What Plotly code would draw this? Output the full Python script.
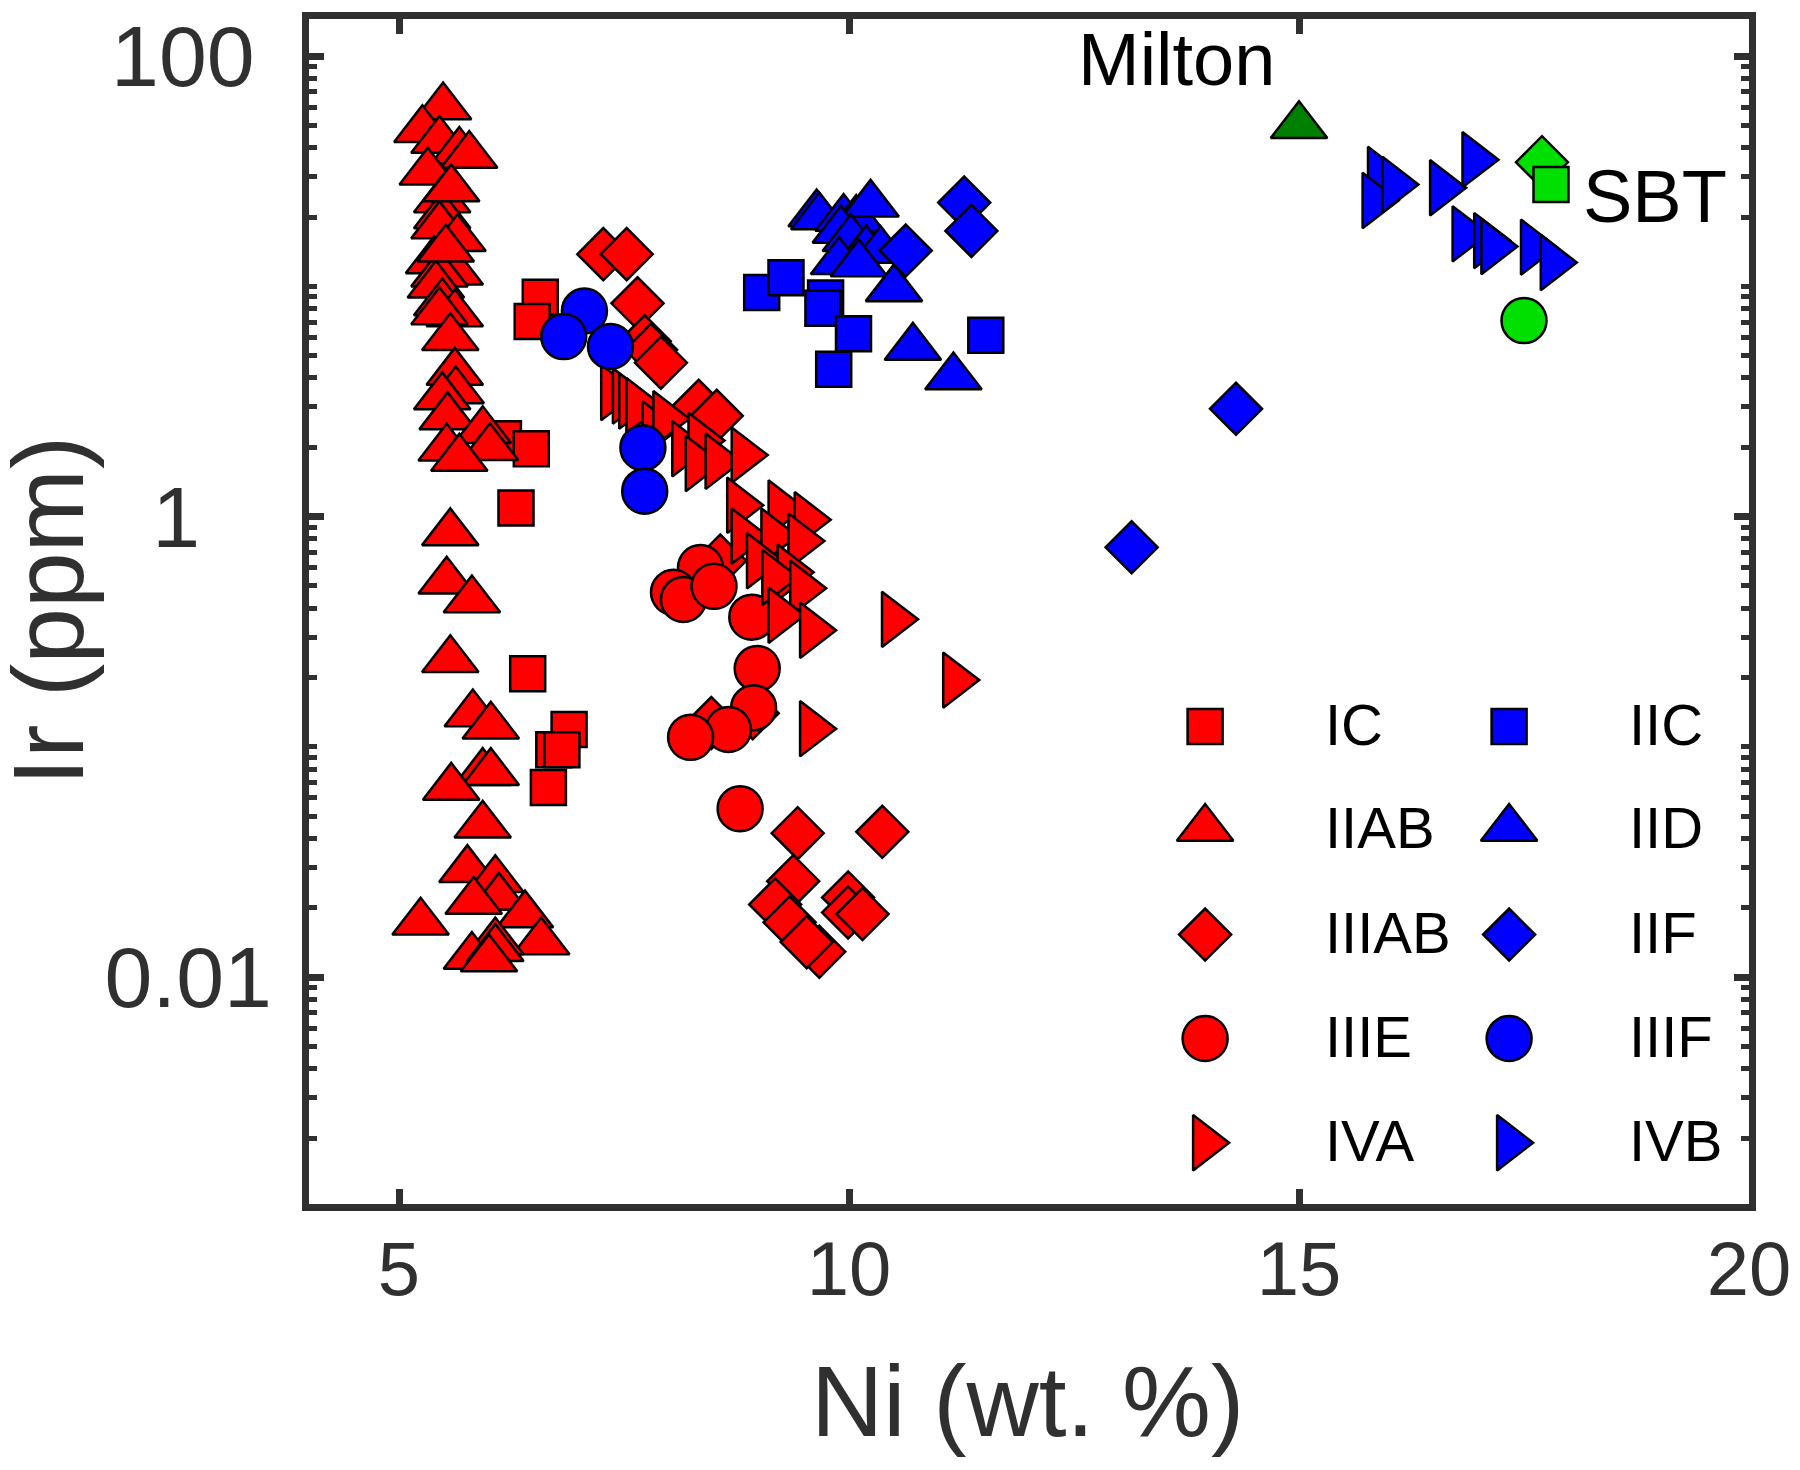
import plotly.graph_objects as go

# ---------------- data (Ni wt.%, Ir ppm) ----------------
IC_x = [6.57, 6.48, 6.16, 6.47, 6.30, 6.43, 6.89, 6.72, 6.81, 6.66]
IC_y = [8.97, 7.03, 2.18, 1.97, 1.09, 0.208, 0.119, 0.0973, 0.0973, 0.0667]

IIAB_x = [5.49, 5.26, 5.45, 5.67, 5.78, 5.32, 5.48, 5.48, 5.45, 5.65, 5.39, 5.62, 5.45, 5.41, 5.48,
          5.62, 5.45, 5.57, 5.62, 5.63, 5.48, 5.54, 5.93, 6.01, 5.53, 5.67, 5.57, 5.53, 5.81, 5.57,
          5.82, 6.02, 5.93, 6.02, 5.58, 5.93, 5.76, 6.07, 6.11, 5.83, 6.40, 5.24, 6.58, 6.07, 5.81,
          6.07, 6.00, 5.58, 5.52]
IIAB_y = [60.1, 47.9, 43.0, 38.5, 37.0, 31.3, 23.7, 20.2, 18.3, 16.1, 12.9, 11.5, 11.3, 10.1, 8.46,
          7.59, 7.74, 5.98, 4.23, 3.51, 3.31, 2.71, 2.36, 1.99, 1.98, 1.79, 0.85, 0.524, 0.434, 0.239,
          0.139, 0.123, 0.0773, 0.0773, 0.0667, 0.0457, 0.0293, 0.0265, 0.0222, 0.0213, 0.0186, 0.0173,
          0.0142, 0.0142, 0.0123, 0.0133, 0.0120, 26.5, 14.5]

IIIAB_x = [7.27, 7.53, 7.65, 7.73, 7.80, 7.91, 8.33, 8.53, 8.57, 8.47, 8.93, 9.43, 10.37, 9.38, 9.18,
           9.34, 9.67, 9.53, 9.99, 9.99, 10.15]
IIIAB_y = [13.8, 13.8, 8.44, 5.77, 5.30, 4.66, 3.03, 2.74, 0.644, 0.127, 0.140, 0.0422, 0.0428, 0.0261,
           0.0207, 0.0173, 0.0129, 0.0142, 0.0222, 0.0191, 0.0188]

IIIE_x = [8.35, 8.05, 8.16, 8.50, 8.92, 8.98, 8.94, 8.66, 8.24, 8.79]
IIIE_y = [0.601, 0.469, 0.437, 0.498, 0.366, 0.219, 0.148, 0.119, 0.110, 0.0539]

IVA_x = [7.38, 7.51, 7.58, 7.66, 7.84, 7.96, 8.17, 8.35, 8.32, 8.54, 8.83, 8.78, 9.24, 9.53, 8.83,
         9.16, 9.46, 9.00, 9.34, 9.17, 9.48, 9.24, 9.59, 10.50, 11.18, 9.59]
IVA_y = [3.46, 3.34, 3.18, 3.03, 2.40, 2.66, 1.97, 2.14, 1.70, 1.74, 1.85, 1.12, 1.09, 0.97, 0.823,
         0.823, 0.783, 0.643, 0.573, 0.545, 0.489, 0.373, 0.321, 0.358, 0.195, 0.120]

IIC_x = [9.03, 9.30, 9.74, 9.71, 10.05, 9.83, 11.52]
IIC_y = [9.40, 10.9, 8.91, 8.03, 6.22, 4.36, 6.13]

IID_x = [9.64, 9.67, 9.94, 10.08, 10.24, 9.91, 10.02, 10.19, 10.35, 9.89, 10.11, 10.50, 10.71, 11.16]
IID_y = [20.6, 20.0, 19.7, 19.5, 22.7, 17.5, 16.1, 14.4, 14.3, 12.8, 12.5, 9.75, 5.43, 4.04]

IIF_x = [11.28, 11.36, 10.63, 14.30, 13.14]
IIF_y = [23.1, 17.4, 14.3, 2.94, 0.736]

IIIF_x = [7.06, 6.83, 7.35, 7.71, 7.73]
IIIF_y = [7.82, 6.05, 5.48, 1.99, 1.29]

IVB_x = [15.90, 15.84, 16.06, 16.59, 16.95, 16.84, 17.08, 17.16, 17.60, 17.82]
IVB_y = [30.6, 23.6, 27.7, 26.8, 35.5, 16.9, 15.8, 14.9, 14.8, 12.7]

MILTON_x = [15.00]
MILTON_y = [49.8]
SBT_sym = ["diamond", "square", "circle"]
SBT_x = [17.70, 17.80, 17.50]
SBT_y = [34.6, 27.7, 7.10]

X_TICKS = [5, 10, 15, 20]
Y_TICKS = [0.01, 1, 100]
Y_TICKTEXT = ["0.01", "1\u00a0\u00a0\u00a0", "100\u2009"]

# ---------------- style ----------------
RED = "#FF0000"
BLUE = "#0000FF"
LIME = "#00E000"
DKGREEN = "#008000"
AX = "#303030"
FONT = "Liberation Sans, Arial, sans-serif"
SIZES = {"square": 35, "triangle-up": 49, "diamond": 40, "circle": 45, "triangle-right": 48}
OUTLINE = dict(color="black", width=2.5)

series = [
    ("IC", IC_x, IC_y, "square", RED),
    ("IIAB", IIAB_x, IIAB_y, "triangle-up", RED),
    ("IIIAB", IIIAB_x, IIIAB_y, "diamond", RED),
    ("IIIE", IIIE_x, IIIE_y, "circle", RED),
    ("IVA", IVA_x, IVA_y, "triangle-right", RED),
    ("IIC", IIC_x, IIC_y, "square", BLUE),
    ("IID", IID_x, IID_y, "triangle-up", BLUE),
    ("IIF", IIF_x, IIF_y, "diamond", BLUE),
    ("IIIF", IIIF_x, IIIF_y, "circle", BLUE),
    ("IVB", IVB_x, IVB_y, "triangle-right", BLUE),
]

fig = go.Figure()
for name, xs, ys, sym, col in series:
    fig.add_trace(go.Scatter(
        x=xs, y=ys, mode="markers", name=name, showlegend=False,
        marker=dict(symbol=sym, size=SIZES[sym], color=col, opacity=1, line=OUTLINE)))

fig.add_trace(go.Scatter(
    x=MILTON_x, y=MILTON_y, mode="markers", name="Milton", showlegend=False,
    marker=dict(symbol="triangle-up", size=SIZES["triangle-up"], color=DKGREEN, opacity=1, line=OUTLINE)))
fig.add_trace(go.Scatter(
    x=SBT_x, y=SBT_y, mode="markers", name="SBT", showlegend=False,
    marker=dict(symbol=SBT_sym, size=[SIZES[s] for s in SBT_sym], color=LIME, opacity=1, line=OUTLINE)))

# ---------------- custom 2-column legend (overlay axes, fractions of plot area) ----------------
LEG_COL_MARK = [0.6223, 0.8334]
LEG_COL_TEXT = [0.7043, 0.9150]
LEG_ROW_MARK = [0.4030, 0.3169, 0.2274, 0.1396, 0.0517]
LEG_ROW_TEXT = [0.4047, 0.3178, 0.2291, 0.1416, 0.0534]

leg_x, leg_y, leg_sym, leg_col, leg_size = [], [], [], [], []
annotations = []
for i, (name, xs, ys, sym, col) in enumerate(series):
    c, r = divmod(i, 5)
    leg_x.append(LEG_COL_MARK[c]); leg_y.append(LEG_ROW_MARK[r])
    leg_sym.append(sym); leg_col.append(col); leg_size.append(SIZES[sym])
    annotations.append(dict(text=name, x=LEG_COL_TEXT[c], y=LEG_ROW_TEXT[r], xref="x2", yref="y2",
                            xanchor="left", yanchor="middle", showarrow=False,
                            font=dict(family=FONT, size=58, color="black")))

fig.add_trace(go.Scatter(
    x=leg_x, y=leg_y, xaxis="x2", yaxis="y2", mode="markers", showlegend=False, hoverinfo="skip",
    marker=dict(symbol=leg_sym, size=leg_size, color=leg_col, opacity=1, line=OUTLINE), cliponaxis=False))

# labels on the chart
annotations.append(dict(text="Milton", x=12.524, y=1.983, xref="x", yref="y", xanchor="left",
                        yanchor="middle", showarrow=False, font=dict(family=FONT, size=74, color="black")))
annotations.append(dict(text="SBT", x=18.13, y=1.39, xref="x", yref="y", xanchor="left",
                        yanchor="middle", showarrow=False, font=dict(family=FONT, size=74, color="black")))
# axis titles
annotations.append(dict(text="Ni (wt. %)", x=0.4992, y=-0.1666, xref="paper", yref="paper",
                        xanchor="center", yanchor="middle", showarrow=False,
                        font=dict(family=FONT, size=100, color=AX)))
annotations.append(dict(text="Ir (ppm)", x=-0.1810, y=0.5009, xref="paper", yref="paper",
                        xanchor="center", yanchor="middle", showarrow=False, textangle=-90,
                        font=dict(family=FONT, size=100, color=AX)))

minor_vals = []
for n in range(-3, 3):
    for k in range(1, 10):
        v = round(k * 10 ** n, 6)
        if v <= 150 and v not in Y_TICKS:
            minor_vals.append(v)

fig.update_layout(
    width=1800, height=1470,
    margin=dict(l=309.4, r=44.2, t=8.4, b=266.2, pad=0),
    paper_bgcolor="white", plot_bgcolor="white",
    showlegend=False,
    annotations=annotations,
    xaxis=dict(range=[4, 20], tickmode="array", tickvals=X_TICKS, ticks="inside", ticklen=15,
               tickwidth=7, tickcolor=AX, showline=True, linewidth=7, linecolor=AX, mirror="ticks",
               showgrid=False, zeroline=False, ticklabelstandoff=-7,
               tickfont=dict(family=FONT, size=76, color=AX)),
    yaxis=dict(type="log", range=[-2.985, 2.161], tickmode="array", tickvals=Y_TICKS, ticktext=Y_TICKTEXT,
               ticks="inside", ticklen=15, tickwidth=7, tickcolor=AX, showline=True, linewidth=7,
               linecolor=AX, mirror="ticks", showgrid=False, zeroline=False, ticklabelstandoff=13,
               minor=dict(tickmode="array", tickvals=minor_vals, ticks="inside", ticklen=8, tickwidth=5,
                          tickcolor=AX, showgrid=False),
               tickfont=dict(family=FONT, size=86, color=AX)),
    xaxis2=dict(overlaying="x", range=[0, 1], visible=False),
    yaxis2=dict(overlaying="y", range=[0, 1], visible=False),
)

fig.write_html("out.html", config={"displayModeBar": False},
               post_script="document.body.style.margin='0';")
